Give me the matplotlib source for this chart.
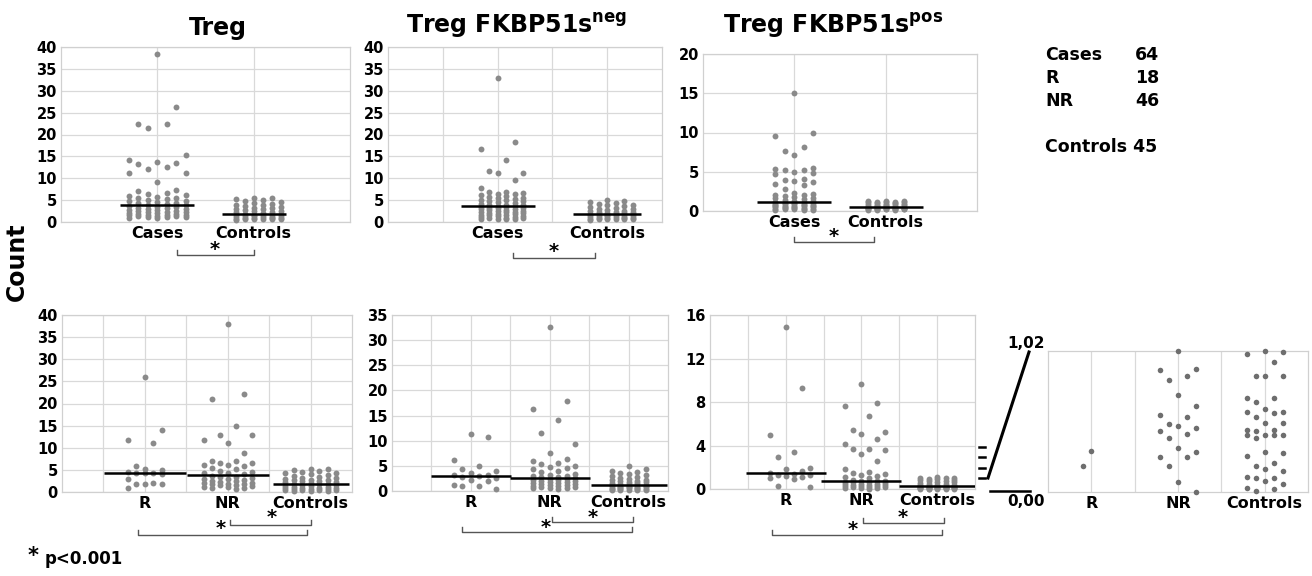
import numpy as np
import matplotlib
matplotlib.use('Agg')
import matplotlib.pyplot as plt
from matplotlib.transforms import blended_transform_factory

plt.rcParams['font.family'] = ['DejaVu Sans']
plt.rcParams['font.weight'] = 'bold'
plt.rcParams['mathtext.fontset'] = 'dejavusans'

W, H = 1312, 576

# ---- data ----
treg_cases = [38.4, 26.3, 22.5, 22.5, 21.4, 15.3, 14.2, 13.8, 13.4, 13.2, 12.6, 12.2, 11.2, 11.1, 9.2, 7.4,
              7.0, 6.7, 6.5, 6.2, 6.0, 5.8, 5.6, 5.4, 5.2, 5.0, 4.9, 4.7, 4.5, 4.4, 4.3, 4.1,
              3.9, 3.8, 3.6, 3.5, 3.4, 3.3, 3.2, 3.0, 2.9, 2.8, 2.7, 2.6, 2.5, 2.4, 2.3, 2.2,
              2.1, 2.0, 1.9, 1.8, 1.7, 1.6, 1.6, 1.5, 1.4, 1.4, 1.3, 1.2, 1.2, 1.1, 1.0, 1.0]
treg_controls = [5.5, 5.4, 5.2, 5.0, 4.8, 4.6, 4.4, 4.2, 4.0, 3.8, 3.6, 3.4, 3.2, 3.1, 3.0, 2.9, 2.7, 2.6,
                 2.5, 2.3, 2.2, 2.0, 1.9, 1.8, 1.7, 1.6, 1.6, 1.5, 1.4, 1.4, 1.3, 1.2, 1.2, 1.1, 1.0,
                 1.0, 0.9, 0.9, 0.8, 0.8, 0.7, 0.7, 0.6, 0.6, 0.5]

neg_cases = [33.0, 18.4, 16.6, 14.2, 11.7, 11.3, 11.2, 9.7, 7.8,
             6.9, 6.8, 6.6, 6.4, 6.3, 6.1, 6.0, 5.8, 5.6, 5.5, 5.3, 5.1, 5.0, 4.8, 4.7, 4.5, 4.3, 4.2,
             4.0, 3.9, 3.8, 3.7, 3.6,
             3.5, 3.4, 3.3, 3.2, 3.1, 3.0, 2.9, 2.8, 2.7, 2.6, 2.5, 2.4, 2.3, 2.2, 2.1, 2.0, 1.9,
             1.8, 1.7, 1.6, 1.5, 1.4, 1.3, 1.2, 1.1, 1.0, 1.0, 0.9, 0.8, 0.8, 0.7, 0.6]
neg_controls = [5.0, 4.8, 4.6, 4.4, 4.2, 4.0, 3.8, 3.6, 3.4, 3.2, 3.0, 2.9, 2.7, 2.6, 2.5, 2.4, 2.3,
                2.2, 2.1, 2.0, 1.9, 1.85, 1.8, 1.75, 1.7, 1.6, 1.5, 1.5, 1.4, 1.3, 1.3, 1.2, 1.1,
                1.1, 1.0, 1.0, 0.9, 0.9, 0.8, 0.8, 0.7, 0.7, 0.6, 0.6, 0.5]

pos_cases = [15.0, 9.9, 9.5, 8.2, 7.7, 7.1, 5.5, 5.4, 5.2, 5.2, 5.0, 4.9, 4.7, 4.1, 4.0, 3.8, 3.7,
             3.5, 3.3, 2.8, 2.3, 2.2, 2.1, 2.0, 1.9, 1.8, 1.7, 1.6, 1.5, 1.4, 1.3, 1.25,
             1.15, 1.1, 1.05, 1.0, 1.0, 0.95, 0.9, 0.9, 0.85, 0.8, 0.8, 0.75, 0.7, 0.7, 0.65, 0.6,
             0.6, 0.55, 0.5, 0.5, 0.45, 0.4, 0.4, 0.35, 0.3, 0.3, 0.25, 0.2, 0.2, 0.15, 0.1, 0.1]
pos_controls = [1.3, 1.3, 1.25, 1.2, 1.2, 1.15, 1.1, 1.1, 1.0, 1.0, 0.95, 0.9, 0.9, 0.85, 0.8, 0.8,
                0.75, 0.7, 0.65, 0.6, 0.6, 0.55, 0.5, 0.48, 0.45, 0.45, 0.42, 0.4, 0.4, 0.38, 0.35,
                0.35, 0.32, 0.3, 0.3, 0.28, 0.26, 0.25, 0.24, 0.22, 0.2, 0.2, 0.18, 0.15, 0.12]

treg_r = [26.1, 14.1, 11.8, 11.1, 5.9, 5.2, 4.9, 4.6, 4.4, 4.4, 4.2, 4.1, 3.0, 2.0, 1.9, 1.9, 1.8, 0.8]
treg_nr = [37.9, 22.2, 21.0, 15.0, 12.9, 12.9, 11.8, 11.1, 8.9, 7.1, 7.0, 6.6, 6.5, 6.2, 6.0, 5.9,
           5.5, 5.1, 4.8, 4.5, 4.3, 4.2, 4.0, 3.7, 3.5, 3.3, 3.1, 3.0, 2.9, 2.7, 2.5, 2.4, 2.2,
           2.1, 2.0, 1.9, 1.8, 1.7, 1.6, 1.5, 1.3, 1.2, 1.1, 1.0, 0.8, 0.7]
treg_ctrl2 = [5.3, 5.2, 5.0, 4.8, 4.6, 4.4, 4.2, 4.0, 3.8, 3.6, 3.4, 3.2, 3.1, 3.0, 2.8, 2.7, 2.6,
              2.5, 2.4, 2.3, 2.2, 2.1, 1.9, 1.8, 1.7, 1.6, 1.5, 1.4, 1.3, 1.2, 1.1, 1.0, 0.9, 0.9,
              0.8, 0.7, 0.7, 0.6, 0.5, 0.5, 0.4, 0.4, 0.3, 0.3, 0.2]

neg_r = [11.3, 10.8, 6.1, 4.9, 4.4, 3.9, 3.5, 3.2, 3.1, 2.9, 2.8, 2.6, 2.2, 1.9, 1.1, 1.0, 0.9, 0.4]
neg_nr = [32.7, 17.9, 16.3, 14.2, 11.6, 9.4, 7.6, 6.3, 5.9, 5.6, 5.4, 5.0, 4.8, 4.6, 4.3, 4.0, 3.7,
          3.4, 3.2, 3.0, 2.9, 2.8, 2.7, 2.5, 2.4, 2.3, 2.2, 2.1, 2.0, 1.9, 1.8, 1.7, 1.6, 1.5,
          1.4, 1.3, 1.2, 1.1, 1.0, 0.9, 0.8, 0.7, 0.6, 0.5, 0.5, 0.4]
neg_ctrl2 = [4.9, 4.3, 4.0, 3.8, 3.6, 3.4, 3.2, 3.0, 2.8, 2.6, 2.4, 2.2, 2.1, 2.0, 1.9, 1.8, 1.7,
             1.6, 1.5, 1.4, 1.3, 1.2, 1.15, 1.1, 1.0, 1.0, 0.9, 0.9, 0.8, 0.8, 0.7, 0.7, 0.6, 0.6,
             0.5, 0.5, 0.4, 0.4, 0.3, 0.3, 0.25, 0.2, 0.2, 0.15, 0.1]

pos_r = [14.9, 9.3, 5.0, 3.4, 2.9, 1.9, 1.8, 1.7, 1.5, 1.4, 1.3, 1.3, 1.2, 1.1, 1.0, 0.9, 0.3, 0.2]
pos_nr = [9.7, 7.95, 7.6, 6.7, 5.4, 5.2, 5.1, 4.6, 4.1, 3.7, 3.7, 3.6, 3.2, 2.6, 1.8, 1.6, 1.5,
          1.4, 1.3, 1.2, 1.1, 1.0, 0.8, 0.7, 0.7, 0.7, 0.65, 0.6, 0.6, 0.55, 0.5, 0.5, 0.45, 0.4,
          0.4, 0.35, 0.3, 0.3, 0.25, 0.2, 0.2, 0.15, 0.1, 0.1, 0.05, 0.0]
pos_ctrl2 = [1.1, 1.05, 1.0, 1.0, 0.95, 0.9, 0.85, 0.8, 0.75, 0.7, 0.65, 0.6, 0.55, 0.5, 0.45, 0.4,
             0.38, 0.35, 0.32, 0.3, 0.28, 0.26, 0.24, 0.22, 0.2, 0.2, 0.18, 0.16, 0.15, 0.14, 0.12,
             0.11, 0.1, 0.09, 0.08, 0.07, 0.06, 0.05, 0.05, 0.04, 0.03, 0.02, 0.02, 0.01, 0.0]

# zoomed 0 - 1.02 range of the FKBP51s pos panel
zoom_r = [0.30, 0.19]
zoom_nr = [1.02, 0.89, 0.88, 0.84, 0.81, 0.70, 0.62, 0.56, 0.54, 0.49, 0.48, 0.46, 0.44, 0.42,
           0.39, 0.32, 0.29, 0.25, 0.25, 0.19, 0.07, 0.00]
zoom_ctrl = [1.02, 1.01, 1.00, 0.94, 0.84, 0.84, 0.84, 0.68, 0.68, 0.65, 0.60, 0.58, 0.57, 0.58,
             0.54, 0.50, 0.50, 0.45, 0.45, 0.44, 0.41, 0.41, 0.41, 0.41, 0.39, 0.29, 0.28, 0.26,
             0.21, 0.19, 0.17, 0.15, 0.11, 0.10, 0.10, 0.08, 0.06, 0.03, 0.02, 0.01]

legend_rows = [('Cases', '64'), ('R', '18'), ('NR', '46')]
n_controls = 45

fig = plt.figure(figsize=(W / 100, H / 100), dpi=100)


def add_ax(l, t, r, b):
    return fig.add_axes([l / W, 1 - b / H, (r - l) / W, (b - t) / H])


def ftext(x, y, s, **kw):
    fig.text(x / W, 1 - y / H, s, **kw)


def fline(xs, ys, **kw):
    fig.add_artist(plt.Line2D([x / W for x in xs], [1 - y / H for y in ys], **kw))


def style(ax, nx, ymax, ystep, cats, pos, yticks=True):
    ax.set_xlim(0, nx)
    ax.set_ylim(0, ymax)
    ax.set_xticks(range(1, nx))
    labels = [''] * (nx - 1)
    for c, p in zip(cats, pos):
        labels[p - 1] = c
    ax.set_xticklabels(labels, fontsize=11.5, fontweight='bold')
    if yticks:
        ax.set_yticks(np.arange(0, ymax + 0.001, ystep))
        ax.set_yticklabels([f'{v:g}' for v in np.arange(0, ymax + 0.001, ystep)],
                           fontsize=10.5, fontweight='bold')
        ax.grid(True, color='#d9d9d9', lw=0.9)
    else:
        ax.set_yticks([])
        ax.grid(True, axis='x', color='#d9d9d9', lw=0.9)
    ax.set_axisbelow(True)
    ax.tick_params(length=0, pad=3)
    for s in ax.spines.values():
        s.set_color('#d0d0d0')
        s.set_linewidth(0.9)


# column order used to spread the dots of a group
COLS = {2: [0, -1], 5: [0, 2, -2, 1, -1], 6: [0, 2, -2, 1, -1, 3],
        7: [0, 2, -2, 1, -1, 3, -3]}


def swarm(ax, vals, xc, ncol=7, step=8.5, color='#8a8a8a', size=18, med_px=None):
    v = np.sort(np.asarray(vals, float))[::-1]
    tr = ax.transData
    pts = tr.transform(np.column_stack([np.full(len(v), xc), v]))
    order = COLS[ncol]
    xs = [pts[0, 0] + order[i % len(order)] * step for i in range(len(v))]
    xd = tr.inverted().transform(np.column_stack([xs, pts[:, 1]]))[:, 0]
    ax.scatter(xd, v, s=size, color=color, linewidths=0, zorder=3, clip_on=False)
    if med_px:
        ppu = tr.transform((1, 0))[0] - tr.transform((0, 0))[0]
        hw = med_px / ppu
        m = np.median(v)
        ax.plot([xc - hw, xc + hw], [m, m], color='black', lw=1.8, zorder=4, solid_capstyle='butt')


def bracket(ax, x1, x2, y, sx, sy, h=0.03):
    tr = blended_transform_factory(ax.transData, ax.transAxes)
    ax.plot([x1, x1, x2, x2], [y + h, y, y, y + h], color='#555555', lw=1.0,
            transform=tr, clip_on=False)
    ax.text(sx, sy, '*', transform=tr, ha='center', va='center', fontsize=14, fontweight='bold')


# ---- top row ----
a1 = add_ax(61, 47, 350, 222)
style(a1, 3, 40, 5, ['Cases', 'Controls'], [1, 2])
swarm(a1, treg_cases, 1, ncol=7, step=9.5, med_px=37)
swarm(a1, treg_controls, 2, ncol=6, step=9, med_px=32)
bracket(a1, 1.2, 2.0, -0.19, 1.6, -0.155)

a2 = add_ax(388, 47, 662, 222)
style(a2, 5, 40, 5, ['Cases', 'Controls'], [2, 4])
swarm(a2, neg_cases, 2, ncol=6, step=8.5, med_px=37)
swarm(a2, neg_controls, 4, ncol=6, step=8.5, med_px=34)
bracket(a2, 2.29, 3.78, -0.205, 3.02, -0.17)

a3 = add_ax(703, 54, 977, 211)
style(a3, 3, 20, 5, ['Cases', 'Controls'], [1, 2])
swarm(a3, pos_cases, 1, ncol=5, step=9.5, med_px=37)
swarm(a3, pos_controls, 2, ncol=5, step=9, med_px=37)
bracket(a3, 1.0, 1.87, -0.197, 1.43, -0.165)

# ---- bottom row ----
b1 = add_ax(62, 315, 352, 492)
style(b1, 7, 40, 5, ['R', 'NR', 'Controls'], [2, 4, 6])
swarm(b1, treg_r, 2, ncol=5, step=8.5, med_px=41)
swarm(b1, treg_nr, 4, ncol=7, step=8, med_px=41)
swarm(b1, treg_ctrl2, 6, ncol=7, step=8.5, med_px=38)
bracket(b1, 4.06, 6.01, -0.186, 5.07, -0.145)
bracket(b1, 1.84, 5.92, -0.243, 3.82, -0.205)

b2 = add_ax(392, 315, 668, 491)
style(b2, 7, 35, 5, ['R', 'NR', 'Controls'], [2, 4, 6])
swarm(b2, neg_r, 2, ncol=6, step=8.5, med_px=40)
swarm(b2, neg_nr, 4, ncol=6, step=8.5, med_px=40)
swarm(b2, neg_ctrl2, 6, ncol=5, step=8.5, med_px=38)
bracket(b2, 4.06, 6.12, -0.176, 5.1, -0.15)
bracket(b2, 1.78, 6.09, -0.233, 3.91, -0.205)

b3 = add_ax(710, 315, 975, 489)
style(b3, 7, 16, 4, ['R', 'NR', 'Controls'], [2, 4, 6])
swarm(b3, pos_r, 2, ncol=6, step=8, med_px=40)
swarm(b3, pos_nr, 4, ncol=6, step=8, med_px=40)
swarm(b3, pos_ctrl2, 6, ncol=5, step=8.5, med_px=38)
bracket(b3, 4.04, 6.17, -0.195, 5.09, -0.165)
bracket(b3, 1.64, 6.12, -0.264, 3.77, -0.23)

c = add_ax(1048, 351, 1308, 492)
style(c, 6, 1.02, 1, ['R', 'NR', 'Controls'], [1, 3, 5], yticks=False)
swarm(c, zoom_r, 1, ncol=2, step=8.5, color='#6e6e6e', size=16)
swarm(c, zoom_nr, 3, ncol=5, step=9, color='#6e6e6e', size=16)
swarm(c, zoom_ctrl, 5, ncol=5, step=9, color='#6e6e6e', size=16)

# zoom connector
for y in (447, 457, 468, 478):
    fline([979, 985], [y, y], color='black', lw=1.8)
fline([988, 1029], [478, 352], color='black', lw=2.2)
fline([990, 1030], [491, 491], color='black', lw=1.8)
ftext(1045, 348, '1,02', ha='right', va='baseline', fontsize=11, fontweight='bold')
ftext(1045, 506, '0,00', ha='right', va='baseline', fontsize=11, fontweight='bold')

# titles and labels
ftext(218, 35, 'Treg', ha='center', va='baseline', fontsize=17, fontweight='bold')
ftext(517, 33, r'Treg FKBP51s$^{\mathbf{neg}}$', ha='center', va='baseline', fontsize=17, fontweight='bold')
ftext(833, 33, r'Treg FKBP51s$^{\mathbf{pos}}$', ha='center', va='baseline', fontsize=17, fontweight='bold')
ftext(17, 262, 'Count', rotation=90, ha='center', va='center', fontsize=17, fontweight='bold')

for (name, n), yb in zip(legend_rows, (60, 83, 106)):
    ftext(1045, yb, name, ha='left', va='baseline', fontsize=12.5, fontweight='bold')
    ftext(1135, yb, n, ha='left', va='baseline', fontsize=12.5, fontweight='bold')
ftext(1045, 152, f'Controls {n_controls}', ha='left', va='baseline', fontsize=12.5, fontweight='bold')

ftext(33, 556, '*', ha='center', va='center', fontsize=15, fontweight='bold')
ftext(45, 564, 'p<0.001', ha='left', va='baseline', fontsize=12, fontweight='bold')

fig.savefig('out.png', dpi=100)
